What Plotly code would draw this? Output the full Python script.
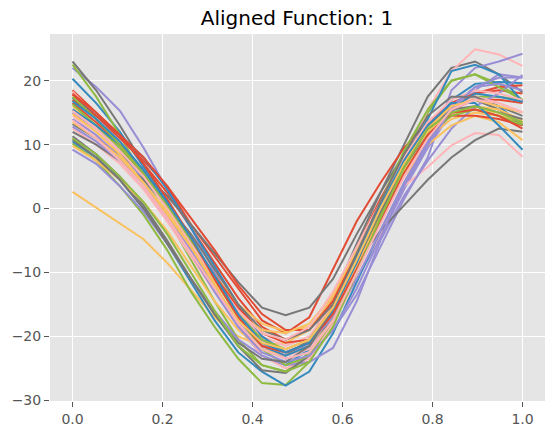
import plotly.graph_objects as go

# 20 sample points on [0, 1]
x_vals = [0.0, 0.0526, 0.1053, 0.1579, 0.2105, 0.2632, 0.3158, 0.3684, 0.4211, 0.4737,
          0.5263, 0.5789, 0.6316, 0.6842, 0.7368, 0.7895, 0.8421, 0.8947, 0.9474, 1.0]

# aligned functions
f01 = [18.5, 15, 11.5, 7, 2.5, -3, -8.5, -14, -18.5, -20.5, -19, -14, -6, 1.5, 8, 13, 16.5, 18, 18.5, 18]
f02 = [20.3, 16.5, 12, 6.5, 0.5, -6, -12.5, -18.5, -23, -24.5, -22, -16.5, -9, -1.5, 5.5, 11.5, 16, 17.5, 16, 13]
f03 = [22, 19, 15.3, 9.5, 3, -3, -10, -16, -20.5, -22.5, -21.5, -17, -11, -4.5, 3, 9.5, 15, 18.5, 21, 20.5]
f04 = [23, 18.5, 13, 7, 1, -5.5, -12, -18, -22, -23, -20.5, -14, -5.5, 2.5, 10, 17.5, 22, 23, 21, 18.2]
f05 = [2.6, 0.1, -2.4, -4.8, -8.5, -12.8, -17, -20, -21.5, -21, -19, -14, -7, 0, 6.5, 11, 14, 15, 14.5, 13.5]
f06 = [22.5, 17.5, 11.5, 5, -1.5, -8, -14.5, -20.5, -24.5, -25.5, -22.5, -16.5, -8, 0.5, 8.5, 15, 20, 21, 19.5, 17]
f07 = [18.3, 14.5, 10.5, 6, 1, -4.5, -10.5, -16, -20, -21.5, -20, -15, -7.5, 0, 7, 15.5, 21.5, 24.9, 24.1, 22.3]
f08 = [17.8, 14.5, 11, 7.5, 3.5, -2.5, -7.5, -12.5, -17.5, -19.5, -17, -9.5, -2, 4, 9.5, 13.5, 16.5, 18, 19, 19.3]
f09 = [17.3, 14.5, 11.5, 8, 3, -3, -9, -15, -20, -22.5, -21, -16, -8.5, -1, 6, 12, 17, 19.5, 19.8, 19.6]
f10 = [15, 12.5, 9, 4.5, -1, -7, -13, -18.5, -22, -23.5, -22.5, -19, -13.5, -6, 1.5, 8, 18.5, 22, 23, 24.2]
f11 = [13.2, 11, 8.5, 5.5, 2, -2.5, -7, -11.5, -15.5, -16.7, -15.5, -11, -4, 2.5, 8.5, 13, 16, 17, 15.5, 13.1]
f12 = [16, 13, 9.5, 5.5, 0.5, -5, -10.5, -15, -18, -19.2, -18.5, -15, -8.5, -1, 6, 11.5, 14.5, 16, 15.5, 13.8]
f13 = [10.2, 7.5, 3.5, -1, -6.5, -13, -18.5, -23.5, -27.3, -27.6, -24, -17, -9, -1, 6.5, 12.5, 16, 17.5, 17.5, 17]
f14 = [14.5, 11.5, 8, 3.5, -1.5, -7, -13, -18.5, -23, -25, -23.5, -18, -11, -4, 3.5, 6.5, 9.9, 11.8, 11.5, 8.1]
f15 = [16.5, 13.5, 10, 5.5, 0.5, -5, -10.5, -15.5, -19.5, -21, -20.5, -16, -9, -1.5, 5.5, 11.5, 15.5, 17, 17, 16.5]
f16 = [10.5, 8, 4.5, 0, -5.5, -11.5, -17.5, -22.5, -25.5, -27.7, -25.5, -19.5, -11.5, -3.5, 4, 10.5, 15.5, 18, 17.5, 16.7]
f17 = [9.2, 7, 3.5, -0.5, -5.5, -11, -16, -20.5, -23, -24.5, -24, -21.8, -14.5, -5, 2, 7.5, 12.5, 16, 18, 20.9]
f18 = [11.3, 8.5, 5, 0.5, -5, -11, -16.5, -21.5, -25.3, -25.7, -23, -16.5, -8.5, -3.5, 0.5, 4.5, 8, 10.7, 12.5, 12]
f19 = [9.8, 7.5, 4.5, 1, -3.5, -9, -14.5, -19, -22, -23, -21.5, -16.5, -9, -1.5, 5, 10, 13, 14.5, 13.5, 10.7]
f20 = [16.3, 13, 9.5, 5, 0, -5.5, -11, -16.5, -20.5, -22, -20.5, -15.5, -7.5, 1, 9, 15.5, 20, 21, 19, 17]
f21 = [12.5, 10, 7, 3, -2, -7.5, -13, -18, -21.5, -23, -22, -17.5, -10, -2, 5, 11, 15.5, 17.5, 16.5, 15.1]
f22 = [17, 14.5, 11.5, 8, 3.5, -1.5, -6.5, -12, -16.5, -19, -19, -14.5, -7, 0.5, 7.5, 12.5, 14.5, 14.5, 14, 13]
f23 = [15.5, 13, 10, 6, 1, -5, -11, -17, -21.5, -23, -21.5, -16, -8.5, 0, 7.5, 14, 21.5, 22.5, 21, 16.7]
f24 = [14, 11.5, 8, 4, -1, -6.5, -12.5, -18, -21.5, -22.5, -21, -17, -11, -3.5, 4, 10.5, 16, 19, 20.5, 20.5]
f25 = [12, 10, 7.5, 4.5, 0.5, -4, -9.5, -15, -19, -20.5, -19, -15, -8, -0.5, 6.5, 12, 15.5, 16, 15, 14]
f26 = [14.8, 12, 8.5, 4, -1, -6, -11.5, -16.5, -19, -19.5, -18, -13.5, -6.5, 0.5, 7, 12, 15, 15.5, 15, 13.5]
f27 = [17.5, 14, 10, 5.5, 0.5, -5, -11, -17, -22, -24.5, -23, -17.5, -10, -2, 5.5, 11.5, 14.5, 15.5, 14.5, 13.1]
f28 = [15.3, 12.5, 9, 5, 0, -5.5, -11, -16, -19.5, -20.5, -18.5, -13, -6, 1, 8, 13.5, 17, 18.5, 18, 17]
f29 = [18, 15, 11.5, 7, 1.5, -4.5, -11, -17, -21.5, -22.5, -21, -16.5, -9.5, -2, 5.5, 11.5, 15, 15.5, 14.5, 12.5]
f30 = [16.8, 14, 10.5, 6, 1, -4.5, -10.5, -16.5, -21, -22.5, -21, -15.5, -7.5, 0.5, 7.5, 13, 16.5, 16.5, 13, 9.2]
f31 = [12.8, 10.5, 7.5, 3.5, -1.5, -7, -13, -18.5, -22.5, -24, -23, -19, -12.5, -4.5, 3.5, 10, 15.5, 19, 19.5, 18.5]
f32 = [10.8, 8, 4.5, 0, -5.5, -11, -16.5, -21, -23.5, -24, -21.5, -15.5, -7, 1, 8.5, 14.5, 17.5, 17.5, 16, 14.5]
f33 = [13.5, 11, 8, 4, -0.5, -6, -12, -17.5, -21, -22, -20.5, -15.5, -8, 0, 7, 12.5, 16, 17, 16, 15]
f34 = [11, 8.5, 5, 1, -4, -10, -16, -21.5, -24.5, -25.5, -24, -18.5, -10, -1.5, 6.5, 12.5, 15, 16, 15, 13.5]
f35 = [13.8, 11, 7.5, 3.5, -1.5, -7, -12.5, -18, -22, -23.5, -22.5, -17.5, -10, -2.5, 5, 11, 15.5, 17, 16.5, 15]

functions = [f01, f02, f03, f04, f05, f06, f07, f08, f09, f10, f11, f12, f13, f14, f15, f16, f17, f18,
             f19, f20, f21, f22, f23, f24, f25, f26, f27, f28, f29, f30, f31, f32, f33, f34, f35]

x_ticks = [0.0, 0.2, 0.4, 0.6, 0.8, 1.0]
x_labels = ["0.0", "0.2", "0.4", "0.6", "0.8", "1.0"]
y_ticks = [-30, -20, -10, 0, 10, 20]
y_labels = ["\u221230", "\u221220", "\u221210", "0", "10", "20"]

# matplotlib ggplot style colour cycle
colors = ["#E24A33", "#348ABD", "#988ED5", "#777777", "#FBC15E", "#8EBA42", "#FFB5B8"]

fig = go.Figure()
for k, y in enumerate(functions):
    fig.add_trace(go.Scatter(
        x=x_vals, y=y, mode="lines",
        line=dict(color=colors[k % len(colors)], width=2),
        showlegend=False,
    ))

axis_style = dict(
    showgrid=True, gridcolor="white", gridwidth=1,
    zeroline=False, showline=False, automargin=False,
    ticks="outside", ticklen=5, tickwidth=1, tickcolor="#555555",
    tickfont=dict(family="DejaVu Sans", size=14, color="#555555"),
)

fig.update_layout(
    width=555, height=436,
    margin=dict(l=50, r=10, t=34, b=35),
    paper_bgcolor="white", plot_bgcolor="#E5E5E5",
    title=dict(text="Aligned Function: 1", x=297 / 555, xanchor="center",
               y=1 - 18 / 436, yanchor="middle", yref="container",
               font=dict(family="DejaVu Sans", size=20, color="black")),
    xaxis=dict(range=[-0.05, 1.05], tickvals=x_ticks, ticktext=x_labels, **axis_style),
    yaxis=dict(range=[-30.1, 27.3], tickvals=y_ticks, ticktext=y_labels, **axis_style),
)

# drop the browser's default body margin so the figure sits at the page corner
fig.write_html("out.html", config={"displayModeBar": False},
               post_script="document.body.style.margin = '0';")
